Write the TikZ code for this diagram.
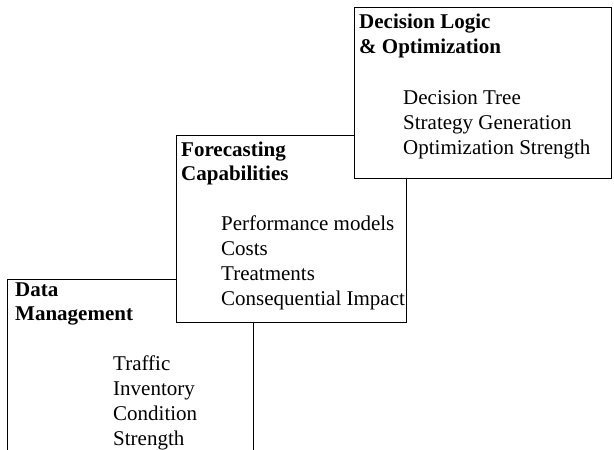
\documentclass[tikz,border=0pt]{standalone}
\usepackage{fontspec}
\setmainfont{Liberation Serif}
\begin{document}
\begin{tikzpicture}[x=1pt,y=-1pt,
  panel/.style={draw=black,fill=white,line width=1.4pt,anchor=north west,inner sep=0pt},
  ttl/.style={anchor=base west,inner sep=0pt,font=\fontsize{21}{25}\selectfont\bfseries},
  itm/.style={anchor=base west,inner sep=0pt,font=\fontsize{21}{25}\selectfont}]
\useasboundingbox (0,0) rectangle (614,450);
\clip (0,0) rectangle (614,450);
% Data Management
\node[panel,minimum width=246pt,minimum height=200pt] (dmbox) at (7,279) {};
\node[ttl] (dmt1) at (15,296) {Data};
\node[ttl] (dmt2) at (15,320) {Management};
\node[itm] (dm1) at (113,370) {Traffic};
\node[itm] (dm2) at (113,395) {Inventory};
\node[itm] (dm3) at (113,420) {Condition};
\node[itm] (dm4) at (113,445) {Strength};
% Forecasting Capabilities
\node[panel,minimum width=230pt,minimum height=187pt] (fcbox) at (176,135) {};
\node[ttl] (fct1) at (181,156) {Forecasting};
\node[ttl] (fct2) at (181,180) {Capabilities};
\node[itm] (fc1) at (221,230) {Performance models};
\node[itm] (fc2) at (221,255) {Costs};
\node[itm] (fc3) at (221,280) {Treatments};
\node[itm] (fc4) at (221,305) {Consequential Impact};
% Decision Logic & Optimization
\node[panel,minimum width=257pt,minimum height=171pt] (dlbox) at (354,7) {};
\node[ttl] (dlt1) at (359,28) {Decision Logic};
\node[ttl] (dlt2) at (359,53) {\& Optimization};
\node[itm] (dl1) at (403,104) {Decision Tree};
\node[itm] (dl2) at (403,129) {Strategy Generation};
\node[itm] (dl3) at (403,154) {Optimization Strength};
\end{tikzpicture}
\end{document}
